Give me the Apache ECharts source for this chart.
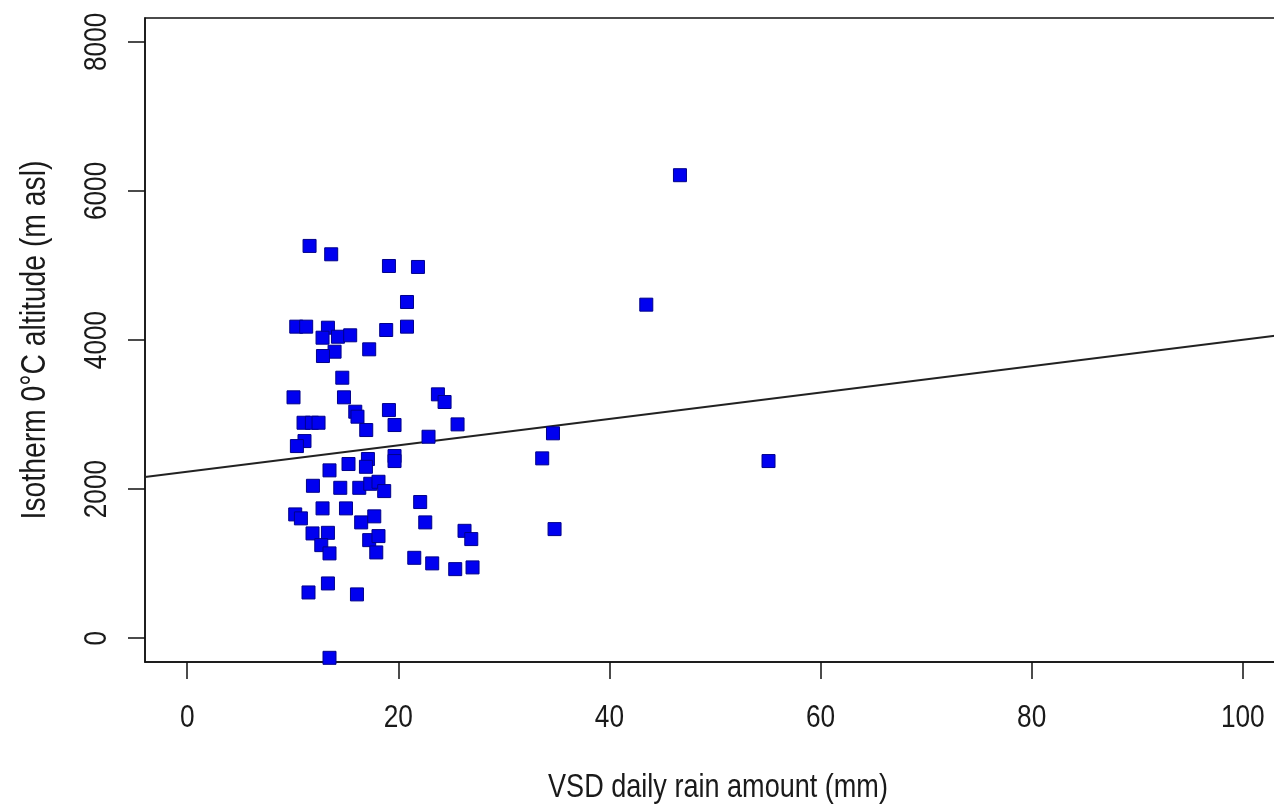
<!DOCTYPE html>
<html>
<head>
<meta charset="utf-8">
<script src="https://cdn.jsdelivr.net/npm/echarts@6/dist/echarts.min.js"></script>
<style>
html,body{margin:0;padding:0;background:#fff;overflow:hidden;width:1274px;height:806px;}
#chart{width:1290px;height:806px;}
</style>
</head>
<body>
<div id="chart"></div>
<script>
// VSD daily rain amount (mm)
const rainMm = [
  11.59, 13.64, 19.11, 21.86, 20.82, 10.33, 11.27, 13.33, 18.85, 20.82,
  12.82, 14.28, 15.44, 13.96, 12.86, 17.24, 14.69, 10.07, 14.85, 15.92,
  16.13, 16.96, 19.11, 19.64, 11.02, 11.81, 12.44, 11.11, 10.39, 23.75,
  24.38, 25.61, 22.86, 17.12, 19.64, 19.64, 16.93, 13.48, 15.28, 11.91,
  14.50, 16.30, 17.34, 18.12, 18.66, 22.07, 10.23, 10.77, 12.82, 15.04,
  16.48, 17.72, 22.55, 11.87, 13.33, 12.70, 13.48, 17.24, 18.12, 17.91,
  21.51, 23.21, 26.27, 26.91, 25.39, 27.03, 11.49, 13.33, 16.08, 13.48,
  34.65, 33.63, 34.80, 46.68, 43.49, 55.07
];
// Isotherm 0°C altitude (m asl)
const isothermM = [
  5262, 5150, 4993, 4980, 4510, 4179, 4179, 4165, 4134, 4179,
  4031, 4044, 4063, 3843, 3785, 3875, 3494, 3231, 3231, 3038,
  2971, 2792, 3060, 2859, 2890, 2890, 2890, 2644, 2577, 3271,
  3168, 2868, 2702, 2403, 2443, 2376, 2299, 2251, 2336, 2044,
  2017, 2017, 2071, 2098, 1973, 1826, 1660, 1607, 1741, 1741,
  1553, 1634, 1553, 1405, 1413, 1248, 1137, 1315, 1369, 1150,
  1078, 1003, 1440, 1329, 926, 949, 613, 734, 587, -264,
  2748, 2412, 1463, 6211, 4474, 2376
];
// Regression line (fit)
const fitIntercept = 2233;
const fitSlope = 17.71;
const xTicks = [0, 20, 40, 60, 80, 100];
const yTicks = [0, 2000, 4000, 6000, 8000];
const xRange = [-4, 104];
const yRange = [-320, 8320];
const xTitle = 'VSD daily rain amount (mm)';
const yTitle = 'Isotherm 0°C altitude (m asl)';

const points = rainMm.map((x, i) => [x, isothermM[i]]);
const fitLine = xRange.map(x => [x, fitIntercept + fitSlope * x]);

const font = '"Liberation Sans", Arial, sans-serif';
const textColor = '#1a1a1a';
const squeeze = 0.82;

const chart = echarts.init(document.getElementById('chart'), null, {renderer: 'canvas'});
chart.setOption({
  backgroundColor: '#fff',
  animation: false,
  grid: {
    left: 145, top: 18, width: 1140, height: 644,
    show: true, borderColor: '#111', borderWidth: 1.5, backgroundColor: 'transparent'
  },
  xAxis: {
    type: 'value', min: xRange[0], max: xRange[1],
    axisLine: {show: true, onZero: false, lineStyle: {color: '#111', width: 1.5}},
    axisTick: {show: true, length: 17, customValues: xTicks, lineStyle: {color: '#111', width: 1.5}},
    axisLabel: {show: false},
    splitLine: {show: false}
  },
  yAxis: {
    type: 'value', min: yRange[0], max: yRange[1],
    axisLine: {show: true, onZero: false, lineStyle: {color: '#111', width: 1.5}},
    axisTick: {show: true, length: 17, customValues: yTicks, lineStyle: {color: '#111', width: 1.5}},
    axisLabel: {show: false},
    splitLine: {show: false}
  },
  series: [
    {
      type: 'scatter', data: points, symbol: 'rect', symbolSize: 13,
      itemStyle: {color: '#0000f0', borderColor: '#00008b', borderWidth: 1, opacity: 1},
      z: 3
    },
    {
      type: 'line', data: fitLine, symbol: 'none', silent: true,
      lineStyle: {color: '#222', width: 2}, z: 2
    }
  ]
});

// Tick labels and titles as real text, slightly condensed like the original
function txt(text, x, y, size, rot) {
  return {
    type: 'text', x: x, y: y, rotation: rot || 0, scaleX: squeeze, scaleY: 1, silent: true,
    style: {text: text, fontFamily: font, fontSize: size, fill: textColor, align: 'center', verticalAlign: 'middle'}
  };
}
const g = [];
xTicks.forEach(v => {
  const p = chart.convertToPixel({gridIndex: 0}, [v, yRange[0]]);
  g.push(txt(String(v), p[0], p[1] + 56, 32, 0));
});
yTicks.forEach(v => {
  const p = chart.convertToPixel({gridIndex: 0}, [xRange[0], v]);
  g.push(txt(String(v), p[0] - 48, p[1], 32, Math.PI / 2));
});
const c0 = chart.convertToPixel({gridIndex: 0}, [xRange[0], yRange[0]]);
const c1 = chart.convertToPixel({gridIndex: 0}, [xRange[1], yRange[1]]);
g.push(txt(xTitle, (c0[0] + c1[0]) / 2 + 3, c0[1] + 126, 33, 0));
g.push(txt(yTitle, c0[0] - 110, (c0[1] + c1[1]) / 2, 34.5, Math.PI / 2));
chart.setOption({graphic: g});
</script>
</body>
</html>
